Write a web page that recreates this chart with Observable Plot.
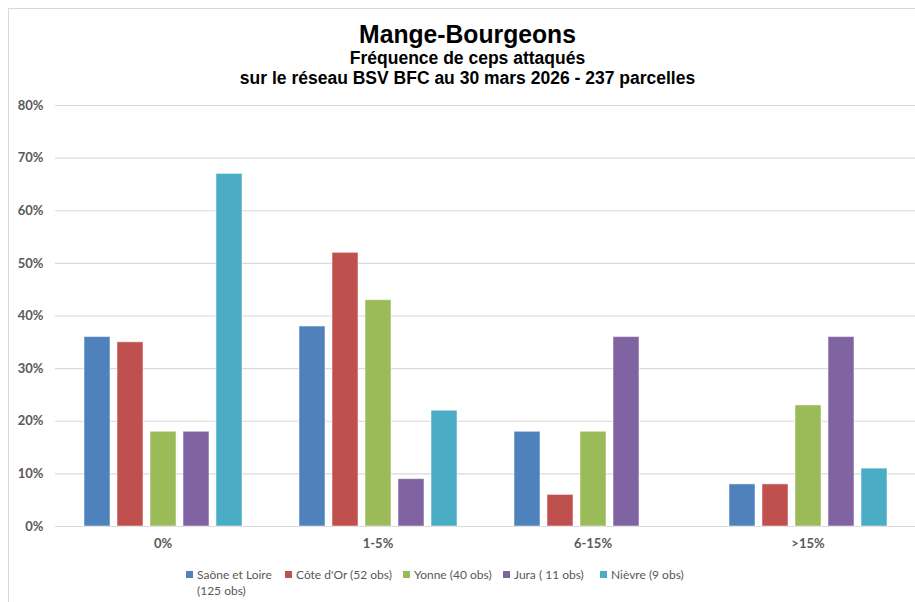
<!DOCTYPE html>
<html>
<head>
<meta charset="utf-8">
<script src="https://cdn.jsdelivr.net/npm/d3@7"></script>
<script src="https://cdn.jsdelivr.net/npm/@observablehq/plot@0.6"></script>
<style>
  html, body { margin: 0; padding: 0; background: #fff; }
  body { width: 915px; height: 602px; position: relative; overflow: hidden; font-family: Lato, "Open Sans", sans-serif; }
  #frame { position: absolute; left: 8px; top: 8px; width: 920px; height: 620px; border: 1px solid #d9d9d9; box-sizing: border-box; }
  .t { position: absolute; left: 0; width: 935px; text-align: center; color: #000; font-family: "Liberation Sans Narrow", "Liberation Sans", Arial, sans-serif; font-weight: bold; white-space: nowrap; }
  #title { top: 19px; font-size: 26px; transform: scaleX(0.95); }
  #sub1 { top: 48px; font-size: 17.5px; }
  #sub2 { top: 68px; font-size: 17.5px; }
  #chart { position: absolute; left: 0; top: 90px; }
  .lg { position: absolute; font-size: 12px; color: #595959; line-height: 16px; }
  .sw { position: absolute; width: 7px; height: 7px; }
</style>
</head>
<body>
<div id="frame"></div>
<div class="t" id="title"></div>
<div class="t" id="sub1"></div>
<div class="t" id="sub2"></div>
<div id="chart"></div>
<div id="legend"></div>
<script>
const title = "Mange-Bourgeons";
const subtitle1 = "Fréquence de ceps attaqués";
const subtitle2 = "sur le réseau BSV BFC au 30 mars 2026 - 237 parcelles";

const classes = ["0%", "1-5%", "6-15%", ">15%"];
const series = ["Saône et Loire (125 obs)", "Côte d'Or (52 obs)", "Yonne (40 obs)", "Jura ( 11 obs)", "Nièvre (9 obs)"];
const colors = ["#4F81BD", "#C0504D", "#9BBB59", "#8064A2", "#4BACC6"];

const saoneEtLoire = [36, 38, 18, 8];
const coteDOr = [35, 52, 6, 8];
const yonne = [18, 43, 18, 23];
const jura = [18, 9, 36, 36];
const nievre = [67, 22, 0, 11];

const yTicks = [0, 10, 20, 30, 40, 50, 60, 70, 80];

document.getElementById("title").textContent = title;
document.getElementById("sub1").textContent = subtitle1;
document.getElementById("sub2").textContent = subtitle2;

const seriesValues = [saoneEtLoire, coteDOr, yonne, jura, nievre];
const data = [];
classes.forEach((c, i) => {
  series.forEach((s, j) => {
    data.push({classe: c, serie: s, value: seriesValues[j][i]});
  });
});

const chart = Plot.plot({
  width: 915,
  height: 462,
  marginLeft: 55,
  marginRight: 0,
  marginTop: 15,
  marginBottom: 26,
  style: {fontFamily: "Lato, 'Open Sans', sans-serif", fontSize: "13px", color: "#595959", background: "transparent"},
  fx: {domain: classes, padding: 0, label: null},
  x: {domain: series, paddingInner: 0.22, paddingOuter: 0.84, axis: null},
  y: {domain: [0, 80], label: null},
  color: {domain: series, range: colors},
  marks: [
    Plot.gridY(yTicks, {stroke: "#d9d9d9", strokeOpacity: 1, strokeWidth: 1.2}),
    Plot.barY(data.filter(d => d.value > 0), {fx: "classe", x: "serie", y: "value", fill: "serie", stroke: "white", strokeOpacity: 0.5, strokeWidth: 1}),
    Plot.axisY(yTicks, {tickSize: 0, tickPadding: 12, tickFormat: d => d + "%", fontWeight: "bold", label: null}),
    Plot.axisFx({anchor: "bottom", tickSize: 0, tickPadding: 12, fontWeight: "bold", label: null})
  ]
});
document.getElementById("chart").appendChild(chart);

// legend
const legendX = [186, 285, 403, 503, 600];
const legend = document.getElementById("legend");
series.forEach((s, j) => {
  const sw = document.createElement("div");
  sw.className = "sw";
  sw.style.left = legendX[j] + "px";
  sw.style.top = "571px";
  sw.style.background = colors[j];
  legend.appendChild(sw);
  const t = document.createElement("div");
  t.className = "lg";
  t.style.left = (legendX[j] + 11) + "px";
  t.style.top = "567px";
  if (j === 0) {
    t.style.width = "80px";
  } else {
    t.style.whiteSpace = "nowrap";
  }
  t.textContent = s;
  legend.appendChild(t);
});
</script>
</body>
</html>
